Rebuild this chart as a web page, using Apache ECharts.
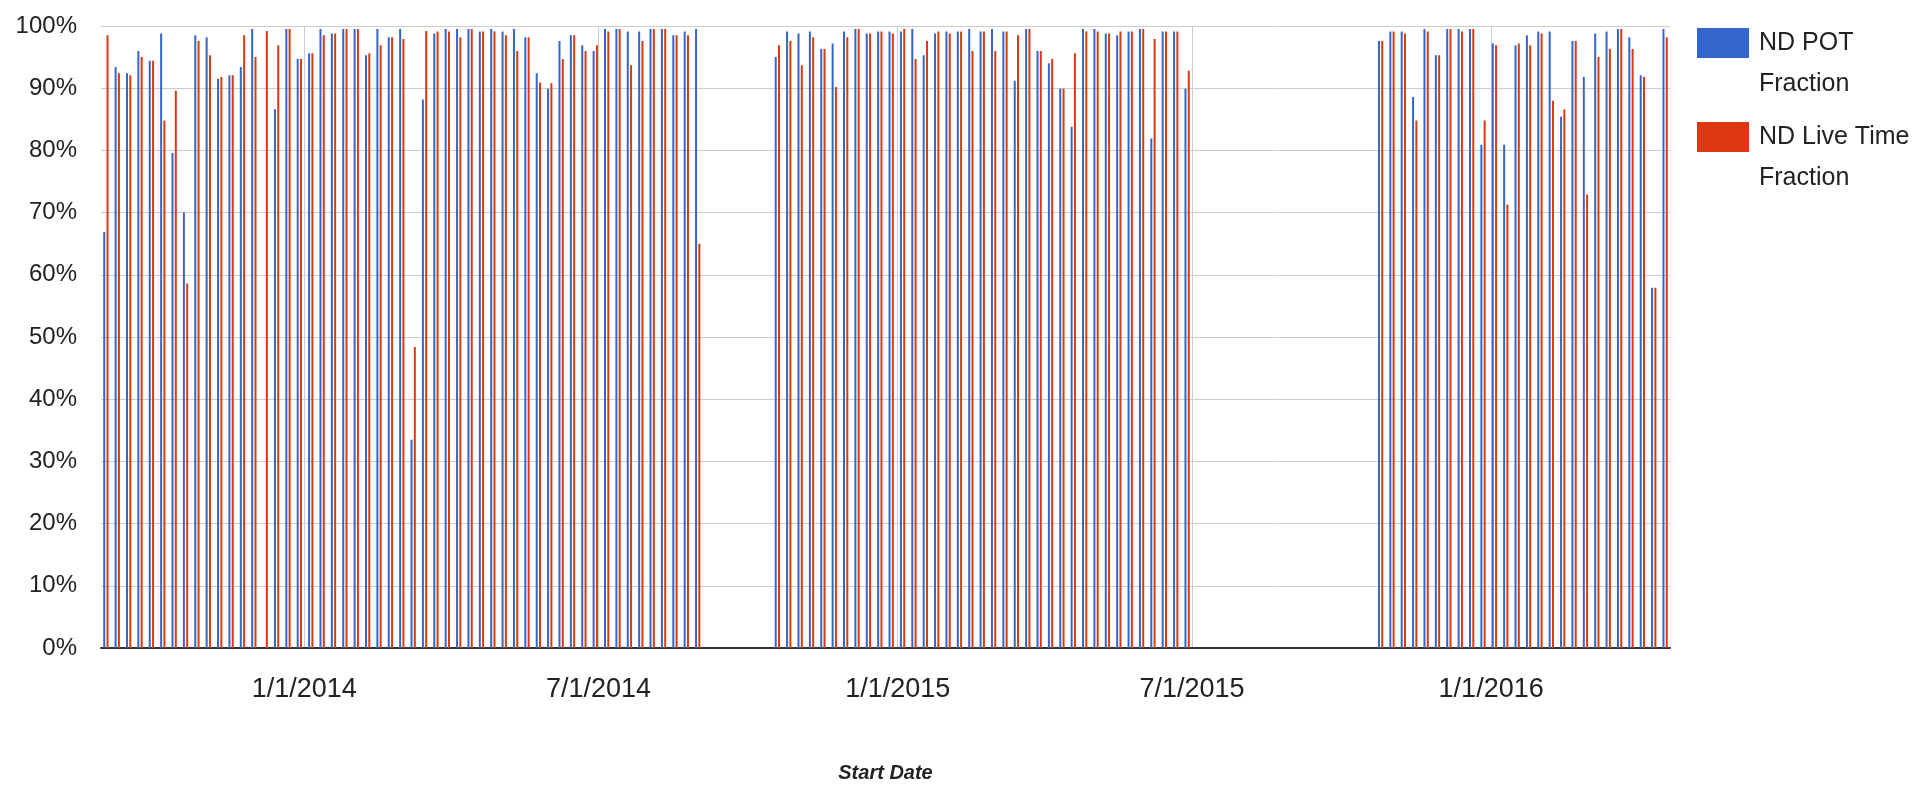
<!DOCTYPE html>
<html><head><meta charset="utf-8">
<script src="https://cdn.jsdelivr.net/npm/echarts@6/dist/echarts.min.js"></script>
<style>html,body{margin:0;padding:0;background:#fff}#c{width:1917px;height:788px}</style>
</head><body><div id="c"></div>
<script>
// Week start dates (three run periods)
const datesRun1 = ['2013-09-01','2013-09-08','2013-09-15','2013-09-22','2013-09-29','2013-10-06','2013-10-13','2013-10-20','2013-10-27','2013-11-03','2013-11-10','2013-11-17','2013-11-24','2013-12-01','2013-12-08','2013-12-15','2013-12-22','2013-12-29',
'2014-01-05','2014-01-12','2014-01-19','2014-01-26','2014-02-02','2014-02-09','2014-02-16','2014-02-23','2014-03-02','2014-03-09','2014-03-16','2014-03-23','2014-03-30','2014-04-06','2014-04-13','2014-04-20','2014-04-27','2014-05-04','2014-05-11','2014-05-18','2014-05-25','2014-06-01','2014-06-08','2014-06-15','2014-06-22','2014-06-29','2014-07-06','2014-07-13','2014-07-20','2014-07-27','2014-08-03','2014-08-10','2014-08-17','2014-08-24','2014-08-31'];
const datesRun2 = ['2014-10-19','2014-10-26','2014-11-02','2014-11-09','2014-11-16','2014-11-23','2014-11-30','2014-12-07','2014-12-14','2014-12-21','2014-12-28',
'2015-01-04','2015-01-11','2015-01-18','2015-01-25','2015-02-01','2015-02-08','2015-02-15','2015-02-22','2015-03-01','2015-03-08','2015-03-15','2015-03-22','2015-03-29','2015-04-05','2015-04-12','2015-04-19','2015-04-26','2015-05-03','2015-05-10','2015-05-17','2015-05-24','2015-05-31','2015-06-07','2015-06-14','2015-06-21','2015-06-28'];
const datesRun3 = ['2015-10-25','2015-11-01','2015-11-08','2015-11-15','2015-11-22','2015-11-29','2015-12-06','2015-12-13','2015-12-20','2015-12-27',
'2016-01-03','2016-01-10','2016-01-17','2016-01-24','2016-01-31','2016-02-07','2016-02-14','2016-02-21','2016-02-28','2016-03-06','2016-03-13','2016-03-20','2016-03-27','2016-04-03','2016-04-10','2016-04-17'];

// ND POT Fraction (%)
const potRun1 = [66.9,93.4,92.4,96.0,94.4,98.8,79.6,70.0,98.5,98.2,91.5,92.1,93.4,99.5,null,86.6,99.5,94.7,95.6,99.5,98.8,99.5,99.5,95.3,99.5,98.2,99.5,33.5,88.2,98.8,99.5,99.5,99.5,99.1,99.5,99.1,99.5,98.2,92.4,89.9,97.6,98.5,96.9,96.0,99.5,99.5,99.1,99.1,99.5,99.5,98.5,99.1,99.5];
const potRun2 = [95.0,99.1,98.8,99.1,96.3,97.2,99.1,99.5,98.8,99.1,99.1,99.1,99.5,95.3,98.8,99.1,99.1,99.5,99.1,99.5,99.1,91.2,99.5,96.0,94.0,89.9,83.8,99.5,99.5,98.8,98.5,99.1,99.5,81.9,99.1,99.1,89.9];
const potRun3 = [97.6,99.1,99.1,88.6,99.5,95.3,99.5,99.5,99.5,80.9,97.2,80.9,96.9,98.5,99.1,99.1,85.4,97.6,91.8,98.8,99.1,99.5,98.2,92.1,57.9,99.5];

// ND Live Time Fraction (%)
const liveRun1 = [98.5,92.4,92.1,95.0,94.4,84.8,89.6,58.6,97.6,95.3,91.8,92.1,98.5,95.0,99.2,96.9,99.5,94.7,95.6,98.5,98.8,99.5,99.5,95.6,96.9,98.2,97.9,48.4,99.2,99.1,99.1,98.2,99.5,99.1,99.1,98.5,96.0,98.2,90.9,90.8,94.7,98.5,96.0,96.9,99.1,99.5,93.7,97.6,99.5,99.5,98.5,98.5,65.0];
const liveRun2 = [96.9,97.6,93.7,98.2,96.3,90.2,98.2,99.5,98.8,99.1,98.8,99.5,94.7,97.6,99.1,98.8,99.1,96.0,99.1,96.0,99.1,98.5,99.5,96.0,94.7,89.9,95.6,99.1,99.1,98.8,99.1,99.1,99.5,97.9,99.1,99.1,92.8];
const liveRun3 = [97.6,99.1,98.8,84.8,99.1,95.3,99.5,99.1,99.5,84.8,96.9,71.3,97.2,96.9,98.8,88.0,86.6,97.6,72.9,95.0,96.3,99.5,96.3,91.8,57.9,98.2];

const xTickDates = ['2014-01-01','2014-07-01','2015-01-01','2015-07-01','2016-01-01'];
const xRange = ['2013-08-29','2016-04-20'];
const seriesNames = ['ND POT Fraction','ND Live Time Fraction'];
const legendLabels = ['\nND POT\nFraction','\nND Live Time\nFraction'];

const ts = s => new Date(s + 'T00:00:00Z').getTime();
const dates = datesRun1.concat(datesRun2, datesRun3);
const pot = potRun1.concat(potRun2, potRun3);
const live = liveRun1.concat(liveRun2, liveRun3);
const tickVals = xTickDates.map(ts);
const F = "'Liberation Sans',Arial,sans-serif";
const fmt = v => { const d = new Date(v); return (d.getUTCMonth()+1) + '/' + d.getUTCDate() + '/' + d.getUTCFullYear(); };

const chart = echarts.init(document.getElementById('c'), null, {renderer:'canvas'});
const legendBase = {
  orient:'vertical', icon:'rect', itemWidth:52, itemHeight:30, padding:0, selectedMode:false,
  textStyle:{fontFamily:F, fontSize:25, lineHeight:41, color:'#222', padding:[0,0,0,5]}
};
chart.setOption({
  animation:false,
  backgroundColor:'#fff',
  grid:{left:101, right:247, top:26, bottom:136, containLabel:false},
  legend:[
    Object.assign({}, legendBase, {data:[seriesNames[0]], left:1697, top:-18.5, formatter:()=>legendLabels[0]}),
    Object.assign({}, legendBase, {data:[seriesNames[1]], left:1697, top:75.5, formatter:()=>legendLabels[1]})
  ],
  xAxis:{
    type:'value', min:ts(xRange[0]), max:ts(xRange[1]), scale:true,
    axisLine:{show:true, onZero:false, lineStyle:{color:'#333', width:2}},
    axisTick:{show:false, customValues:tickVals},
    axisLabel:{customValues:tickVals, formatter:fmt, fontFamily:F, fontSize:27, color:'#222', margin:28, showMinLabel:true, showMaxLabel:true},
    splitLine:{show:true, lineStyle:{color:'#ccc', width:1}},
    name:'Start Date', nameLocation:'middle', nameGap:115,
    nameTextStyle:{fontFamily:F, fontSize:20, fontStyle:'italic', fontWeight:'bold', color:'#222'}
  },
  yAxis:{
    type:'value', min:0, max:100, interval:10,
    axisLine:{show:false}, axisTick:{show:false},
    axisLabel:{formatter:'{value}%', fontFamily:F, fontSize:24, color:'#222', margin:24},
    splitLine:{show:true, lineStyle:{color:'#ccc', width:1}}
  },
  series:[
    {name:seriesNames[0], type:'bar', barWidth:2, barGap:'65%', itemStyle:{color:'#3366cc'},
     data:dates.map((d,i)=>[ts(d), pot[i]])},
    {name:seriesNames[1], type:'bar', barWidth:2, barGap:'65%', itemStyle:{color:'#dc3912'},
     data:dates.map((d,i)=>[ts(d), live[i]])}
  ]
});
</script></body></html>
